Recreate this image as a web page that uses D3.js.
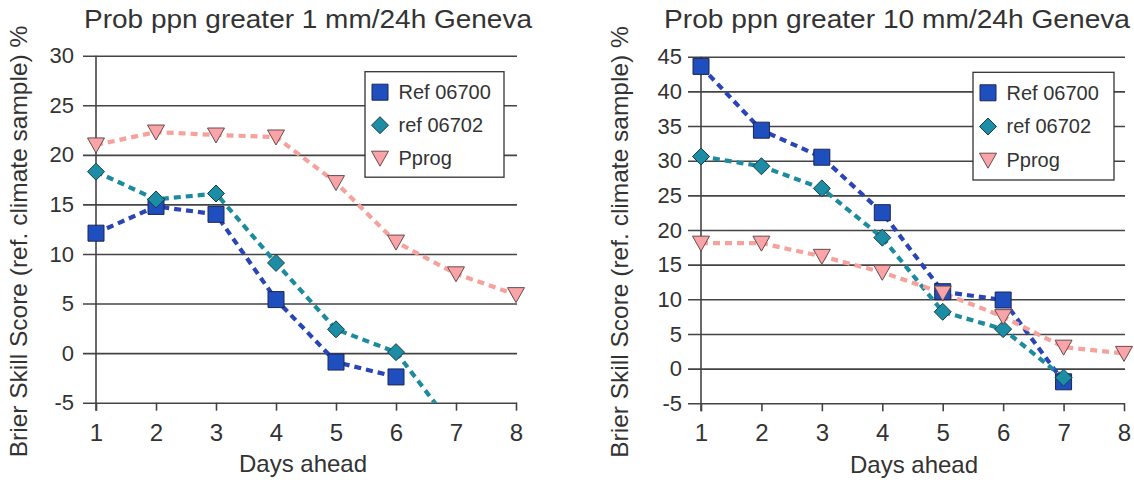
<!DOCTYPE html>
<html><head><meta charset="utf-8">
<script src="https://cdn.jsdelivr.net/npm/d3@7"></script>
<style>
html,body{margin:0;padding:0;background:#fff;}
svg{display:block;}
text{font-family:"Liberation Sans",Arial,Helvetica,sans-serif;fill:#333;}
</style>
</head><body>
<svg id="chart" width="1134" height="480"></svg>
<script>
// ---------- data ----------
const days = [1, 2, 3, 4, 5, 6, 7, 8];
const yTicksLeft = [-5, 0, 5, 10, 15, 20, 25, 30];
const yTicksRight = [-5, 0, 5, 10, 15, 20, 25, 30, 35, 40, 45];
const seriesNames = ["Ref 06700", "ref 06702", "Pprog"];
const titleLeft = "Prob ppn greater 1 mm/24h Geneva";
const titleRight = "Prob ppn greater 10 mm/24h Geneva";
const xAxisTitle = "Days ahead";
const yAxisTitle = "Brier Skill Score (ref. climate sample) %";

const left06700 = [12.1, 14.8, 14.0, 5.4, -0.9, -2.4];
const left06702 = [18.3, 15.5, 16.1, 9.1, 2.4, 0.1, -7.8];
const leftPprog = [21.0, 22.3, 22.0, 21.8, 17.2, 11.2, 8.0, 5.9];

const right06700 = [43.6, 34.4, 30.5, 22.5, 11.1, 9.9, -1.9];
const right06702 = [30.6, 29.2, 26.0, 18.9, 8.2, 5.7, -1.3];
const rightPprog = [18.1, 18.1, 16.2, 13.9, 10.9, 7.5, 3.1, 2.2];

// ---------- styles ----------
const FONT = '"Liberation Sans",Arial,Helvetica,sans-serif';
const seriesStyle = [
  {line: "#2a45b6", fill: "#1f4fbf", stroke: "#1b2652", shape: "square"},
  {line: "#1d8b9e", fill: "#1d8ca5", stroke: "#163e48", shape: "diamond"},
  {line: "#f5a29c", fill: "#f8a4a9", stroke: "#6b4a4a", shape: "tri"}
];
function shapePath(s) {
  if (s === "square") return "M-8,-8H8V8H-8Z";
  if (s === "diamond") return "M0,-8.5L8.5,0L0,8.5L-8.5,0Z";
  return "M-8.5,-7L8.5,-7L0,8Z";
}

const svg = d3.select("#chart");
svg.append("rect").attr("width", 1134).attr("height", 480).attr("fill", "#fff");

function drawChart(cfg, idx) {
  const x = d3.scaleLinear().domain([1, 8]).range([cfg.x0, cfg.x1]);
  const y = d3.scaleLinear().domain([cfg.yMin, cfg.yMax]).range([cfg.yBottom, cfg.yTop]);
  const g = svg.append("g");

  // gridlines + y tick labels
  const gy = g.append("g")
    .attr("transform", `translate(${cfg.gridX0},0)`)
    .call(d3.axisLeft(y).tickValues(cfg.yTicks).tickSize(-(cfg.gridX1 - cfg.gridX0))
      .tickPadding(cfg.yPad).tickFormat(d => String(d)));
  gy.select(".domain").remove();
  gy.selectAll(".tick line").attr("stroke", "#444").attr("stroke-width", 1.6);
  gy.selectAll(".tick text").attr("font-size", 22).attr("font-family", FONT).attr("fill", "#333");

  // x axis ticks + labels
  const gx = g.append("g")
    .attr("transform", `translate(0,${y(cfg.yMin)})`)
    .call(d3.axisBottom(x).tickValues(days).tickSize(8).tickPadding(13).tickFormat(d => String(d)));
  gx.select(".domain").remove();
  gx.selectAll(".tick line").attr("stroke", "#444").attr("stroke-width", 1.6);
  gx.selectAll(".tick text").attr("font-size", 24).attr("font-family", FONT).attr("fill", "#333");

  // vertical y axis line
  g.append("line")
    .attr("x1", x(1)).attr("x2", x(1))
    .attr("y1", y(cfg.yMax)).attr("y2", y(cfg.yMin) + 8)
    .attr("stroke", "#444").attr("stroke-width", 1.6);

  // clip
  const clipId = "clip" + idx;
  svg.append("clipPath").attr("id", clipId).append("rect")
    .attr("x", cfg.gridX0 - 20).attr("y", 35)
    .attr("width", cfg.gridX1 - cfg.gridX0 + 40).attr("height", y(cfg.yMin) - 35);
  const plot = g.append("g").attr("clip-path", `url(#${clipId})`);

  const line = d3.line().x((d, i) => x(days[i])).y(d => y(d));
  cfg.series.forEach((vals, si) => {
    const st = seriesStyle[si];
    plot.append("path").datum(vals)
      .attr("d", line).attr("fill", "none")
      .attr("stroke", st.line).attr("stroke-width", 4.2)
      .attr("stroke-dasharray", "7,5");
  });
  cfg.series.forEach((vals, si) => {
    const st = seriesStyle[si];
    plot.selectAll(null).data(vals).enter().append("path")
      .attr("transform", (d, i) => `translate(${x(days[i])},${y(d)})`)
      .attr("d", shapePath(st.shape))
      .attr("fill", st.fill).attr("stroke", st.stroke).attr("stroke-width", 1);
  });

  // legend
  const lg = g.append("g").attr("transform", `translate(${cfg.legX},${cfg.legY})`);
  lg.append("rect").attr("width", cfg.legW).attr("height", cfg.legH)
    .attr("fill", "#fff").attr("stroke", "#333").attr("stroke-width", 1.3);
  seriesNames.forEach((name, si) => {
    const st = seriesStyle[si];
    const cy = 20.5 + si * cfg.legStep;
    lg.append("path").attr("transform", `translate(15,${cy})`)
      .attr("d", shapePath(st.shape))
      .attr("fill", st.fill).attr("stroke", st.stroke).attr("stroke-width", 1);
    lg.append("text").attr("x", 33.5).attr("y", cy + 7)
      .attr("font-size", 20).text(name);
  });

  // titles
  g.append("text").attr("x", cfg.titleX).attr("y", 28)
    .attr("font-size", 26).attr("textLength", cfg.titleW).attr("lengthAdjust", "spacingAndGlyphs")
    .text(cfg.title);
  g.append("text").attr("x", cfg.xTitleX).attr("y", cfg.xTitleY)
    .attr("text-anchor", "middle").attr("font-size", 24).text(xAxisTitle);
  g.append("text")
    .attr("transform", `translate(${cfg.yTitleX},${cfg.yTitleY}) rotate(-90)`)
    .attr("text-anchor", "middle").attr("font-size", 24.5).text(yAxisTitle);
}

drawChart({
  x0: 96, x1: 516, yMin: -5, yMax: 30, yBottom: 402.7, yTop: 55.7,
  gridX0: 83, gridX1: 517, yPad: 9, yTicks: yTicksLeft,
  series: [left06700, left06702, leftPprog],
  legX: 365, legY: 71.7, legW: 139, legH: 105.5, legStep: 33,
  title: titleLeft, titleX: 84, titleW: 448,
  xTitleX: 303, xTitleY: 471.7, yTitleX: 27, yTitleY: 241.5
}, 0);

drawChart({
  x0: 701, x1: 1124, yMin: -5, yMax: 45, yBottom: 403.3, yTop: 56.7,
  gridX0: 688, gridX1: 1125, yPad: 6, yTicks: yTicksRight,
  series: [right06700, right06702, rightPprog],
  legX: 973, legY: 72.3, legW: 141, legH: 107.7, legStep: 33.7,
  title: titleRight, titleX: 664, titleW: 466,
  xTitleX: 914, xTitleY: 473, yTitleX: 628, yTitleY: 242
}, 1);
</script>
</body></html>
